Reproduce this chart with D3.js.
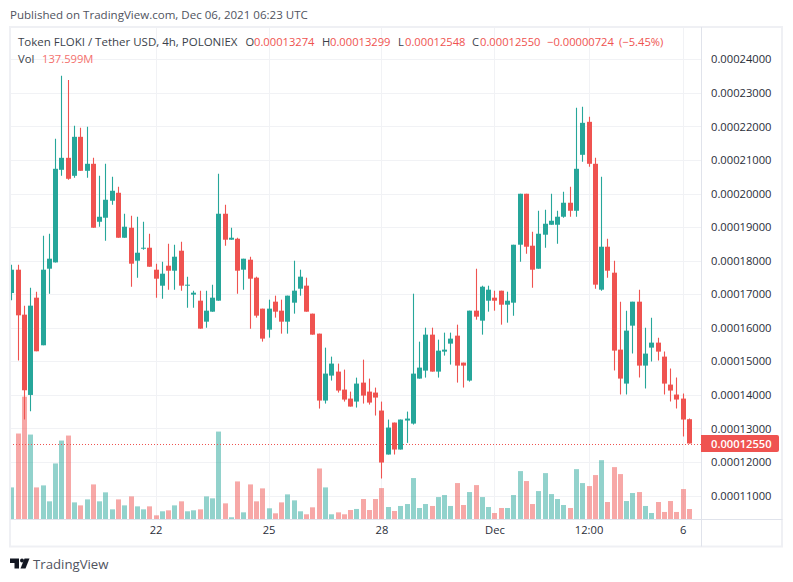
<!DOCTYPE html>
<html><head><meta charset="utf-8">
<script src="https://cdn.jsdelivr.net/npm/d3@7/dist/d3.min.js"></script>
<style>html,body{margin:0;padding:0;background:#fff}svg{display:block}text{font-family:"Open Sans",sans-serif;font-size:11.2px;fill:#2a2e39}</style>
</head><body><svg id="c" width="793" height="582"></svg>
<script>
// prices are in units of 1e-8 USD, volumes in millions
const opens=[17036,17731,16391,13998,16897,15478,17761,17949,20709,21066,20530,21692,20679,20888,19160,19280,19786,20024,18684,18982,17999,18356,18386,17731,17254,17850,17701,18297,17255,16987,16808,16182,16480,16808,19399,18625,18654,17731,18029,17493,16570,15944,16778,16510,16182,16748,17165,17255,16421,15825,13830,14574,14693,14157,13889,13800,14365,14097,14068,13532,12221,13174,12370,13234,13144,14485,14723,15795,14693,15289,15527,15765,14961,14425,16510,16212,16807,16897,17105,16688,16748,18476,19995,18446,17761,18774,19071,19071,19310,19727,19488,21156,22139,20888,17136,18416,17642,15349,14336,16063,16778,14872,15408,15557,15140,14306,14009,13889,13274];
const highs=[17880,17880,16659,17195,17076,18744,18803,21632,23509,23389,22019,21960,21990,21066,20530,20888,20501,20203,19399,19339,19309,19160,18803,17910,17969,18505,18475,18565,17523,17106,17106,17106,17284,20590,19667,18982,18684,18059,18118,17523,16570,16838,16957,16838,16957,17999,17731,17493,16421,15825,15408,15140,14932,14753,14097,14514,15050,14485,14217,13800,13264,13174,13264,13502,17016,15586,16003,16003,15646,15855,15855,16093,14961,16510,17760,17254,17254,17105,17105,17076,18475,19995,19995,18863,19488,19518,19995,19488,20054,20203,22556,22586,22288,21067,20501,18654,17999,16778,16510,16778,17136,16004,16302,15706,15289,14783,14515,14038,13299];
const lows=[16818,15021,13264,13512,15299,15478,17016,17949,20530,20411,20471,20679,20471,18982,19012,18595,19667,18684,18684,17225,17493,18327,17820,16897,16867,17135,17135,17106,16599,16599,15974,16004,16480,16808,18446,18625,17016,17135,15974,16302,15587,15706,16302,15825,15825,16421,16957,16480,15795,13591,13740,14425,14068,13800,13651,13621,13740,13710,13383,11506,12221,12221,12370,12569,13114,14485,14514,14693,14514,15170,14902,14365,14217,14395,16242,15795,16480,16510,16093,16152,16361,17969,18208,17195,17761,18386,19071,18506,19280,19310,19310,20948,20799,17165,17106,17493,14723,14009,14009,15230,14515,14187,14991,15021,14009,13800,13592,12758,12548];
const closes=[17731,16371,14137,16659,15299,17731,18059,20739,21066,20441,21692,20679,20888,18982,19309,19816,20084,18684,19012,17910,18237,18386,17820,17463,17612,17701,18118,17255,17284,17046,15974,16510,16897,19399,18625,18684,17701,18059,17463,16361,15676,16570,16480,16182,16957,17106,17523,16480,15795,13830,14634,14932,14128,13859,13651,14336,13978,13770,13919,11983,13025,12370,13264,13293,14633,14812,15795,14693,15318,15348,15676,14872,14872,16510,16331,17224,17135,16807,16688,16807,18475,19995,18416,17731,18803,19101,19190,19310,19727,19488,20739,22109,20888,17285,18416,17701,15319,14485,15915,16778,14872,15230,15557,15289,14336,14128,13860,13264,12550];
const volumes=[426,1146,1638,1132,426,453,240,746,1052,1119,226,186,266,466,240,360,133,266,186,306,173,133,173,53,107,120,186,240,107,120,133,306,280,1172,213,27,506,93,466,240,413,147,80,226,333,253,107,67,160,679,426,67,93,67,124,138,271,124,271,417,164,111,178,204,551,151,204,178,297,324,178,484,191,364,457,297,164,84,151,151,324,644,511,204,377,617,337,271,191,151,670,484,444,591,790,231,697,604,244,351,364,178,84,231,98,244,98,404,137.6];
const priceTicks=[11000,12000,13000,14000,15000,16000,17000,18000,19000,20000,21000,22000,23000,24000];
const timeTickIndex=[23,41,59,77,92,107];
const timeTickLabels=["22","25","28","Dec","12:00","6"];
const lastPrice=12550;

const GREEN="#26a69a",RED="#ef5350",GRID="#f1f2f5",LINE="#e0e3eb";
const L=10.5,R=701.5,B=519.5,OUT=782.5,TOP=27,BOT=546.5;
const svg=d3.select("#c");
const x=d3.scaleLinear().domain([0,108]).range([11.3,688.9]);
const y=d3.scaleLinear().domain([11000,24000]).range([495.5,59.4]);
const v=d3.scaleLinear().domain([0,137.6]).range([519.3,509]);
const fmt=p=>(p/1e8).toFixed(8);
const idx=d3.range(opens.length);
const col=i=>closes[i]>=opens[i]?GREEN:RED;

svg.append("defs").append("clipPath").attr("id","pane").append("rect").attr("x",L).attr("y",TOP).attr("width",R-L).attr("height",B-TOP);

// grid
svg.append("g").selectAll("line").data(priceTicks).join("line")
 .attr("x1",L).attr("x2",R).attr("y1",d=>Math.round(y(d))+.5).attr("y2",d=>Math.round(y(d))+.5).attr("stroke",GRID);
svg.append("g").selectAll("line").data(timeTickIndex).join("line")
 .attr("x1",d=>Math.round(x(d))+.5).attr("x2",d=>Math.round(x(d))+.5).attr("y1",TOP).attr("y2",B).attr("stroke",GRID);

const pane=svg.append("g").attr("clip-path","url(#pane)");
// volume
pane.append("g").attr("opacity",.5).selectAll("rect").data(idx).join("rect")
 .attr("x",i=>Math.round(x(i))-2).attr("width",5)
 .attr("y",i=>v(volumes[i])).attr("height",i=>v(0)-v(volumes[i])).attr("fill",col);
// last price
pane.append("line").attr("x1",10).attr("x2",R).attr("y1",Math.round(y(lastPrice))+.5).attr("y2",Math.round(y(lastPrice))+.5)
 .attr("stroke",RED).attr("stroke-dasharray","1 2");
// wicks
pane.append("g").selectAll("line").data(idx).join("line")
 .attr("x1",i=>Math.round(x(i))+.5).attr("x2",i=>Math.round(x(i))+.5)
 .attr("y1",i=>y(highs[i])).attr("y2",i=>y(lows[i])).attr("stroke",col).attr("stroke-width",1.1);
// bodies
pane.append("g").selectAll("rect").data(idx).join("rect")
 .attr("x",i=>Math.round(x(i))-2).attr("width",5)
 .attr("y",i=>y(Math.max(opens[i],closes[i])))
 .attr("height",i=>Math.max(1,Math.abs(y(opens[i])-y(closes[i])))).attr("fill",col);

// frame
svg.append("rect").attr("x",10).attr("y",27).attr("width",772).attr("height",519.5).attr("fill","none").attr("stroke","#eff0f4").attr("stroke-width",2);
svg.append("line").attr("x1",R).attr("x2",R).attr("y1",TOP).attr("y2",BOT).attr("stroke",LINE);
svg.append("line").attr("x1",L).attr("x2",OUT).attr("y1",B).attr("y2",B).attr("stroke",LINE);

// axes
const ay=svg.append("g").attr("transform",`translate(${R},0)`).call(d3.axisRight(y).tickValues(priceTicks).tickSize(0).tickPadding(9.5).tickFormat(fmt));
const ax=svg.append("g").attr("transform",`translate(0,${B})`).call(d3.axisBottom(x).tickValues(timeTickIndex).tickSize(0).tickPadding(7).tickFormat((d,i)=>timeTickLabels[i]));
ay.select(".domain").remove();ax.select(".domain").remove();
ay.selectAll("text").style("font-family",'"Open Sans",sans-serif').style("font-size","11.2px").style("fill","#2a2e39");
ax.selectAll("text").style("font-family",'"Open Sans",sans-serif').style("font-size","11.2px").style("fill","#2a2e39");

// last price label
svg.append("path").attr("d","M701 435H777a2 2 0 0 1 2 2V450a2 2 0 0 1-2 2H701Z").attr("fill",RED);
svg.append("text").attr("x",711).attr("y",y(lastPrice)+4.2).text(fmt(lastPrice)).style("fill","#fff").style("font-weight",600).style("font-size","11.2px");

// header text
const txt=(xp,yp,s,c,fs)=>svg.append("text").attr("x",xp).attr("y",yp).text(s).style("fill",c||"#3b3f4a").style("font-size",(fs||11.2)+"px");
txt(10,19,"Published on TradingView.com, Dec 06, 2021 06:23 UTC","#50535e",11.55);
txt(18,46,"Token FLOKI / Tether USD, 4h, POLONIEX",null,11.5);
txt(245.5,46,"O");txt(254,46,fmt(opens[108]),RED);
txt(322,46,"H");txt(330,46,fmt(highs[108]),RED);
txt(398,46,"L");txt(405,46,fmt(lows[108]),RED);
txt(472,46,"C");txt(480,46,fmt(closes[108]),RED);
txt(547,46,"\u22120.00000724",RED);txt(619,46,"(\u22125.45%)",RED);
txt(18,63,"Vol");txt(42,63,"137.599M","#f4706d");

// logo
const g=svg.append("g").attr("fill","#131722");
g.append("path").attr("d","M10 558.5H19V568.5H14.5V563H10Z");
g.append("circle").attr("cx",22).attr("cy",560.5).attr("r",2);
g.append("path").attr("d","M24.5 558.5H29.5L25.5 568.5H20.5Z");
svg.append("text").attr("x",33).attr("y",569).text("TradingView").style("font-size","13.2px").style("fill","#50535e");
</script></body></html>
